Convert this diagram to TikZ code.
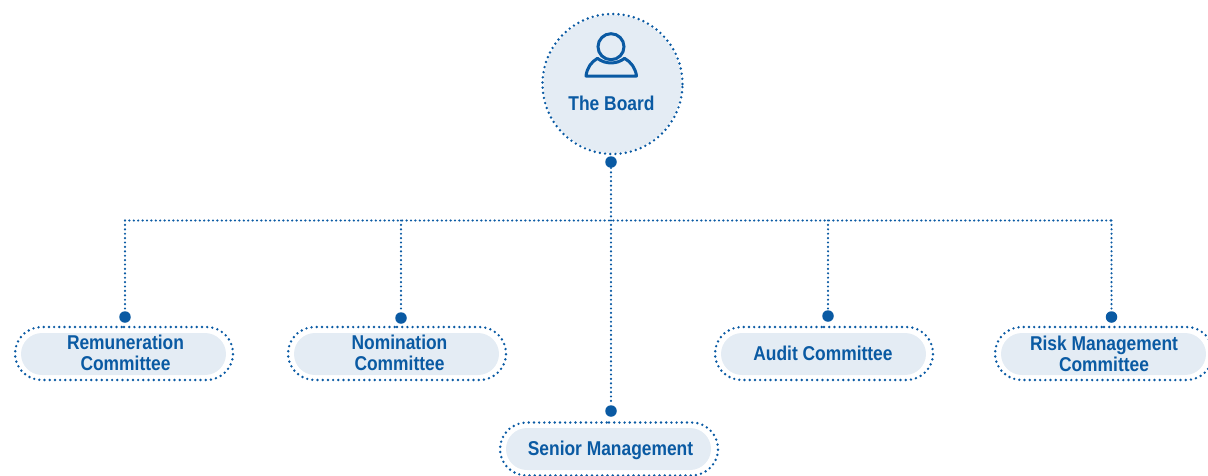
\documentclass[tikz,border=0pt]{standalone}
\usepackage{fontspec}
\setmainfont[FakeStretch=0.87]{Liberation Sans}
\usetikzlibrary{shapes.misc}
\definecolor{bl}{HTML}{0A5AA3}
\definecolor{pale}{HTML}{E4ECF4}
\tikzset{
  dotline/.style={draw=bl,line width=2.7pt,line cap=round,dash pattern=on 0pt off 5.2pt},
  conn/.style={draw=bl,line width=2.4pt,line cap=round,dash pattern=on 0pt off 4.4pt},
  pin/.style={circle,fill=bl,inner sep=0pt,minimum size=11.5pt},
  pillout/.style={rounded rectangle,dotline,minimum width=218pt,minimum height=53pt,inner sep=0pt},
  pillin/.style={rounded rectangle,fill=pale,minimum width=205pt,minimum height=42pt,inner sep=0pt},
  pilltext/.style={text=bl,font=\bfseries\fontsize{20}{21}\selectfont,align=center,inner sep=0pt},
}
\begin{document}
\begin{tikzpicture}[x=1pt,y=-1pt]
\useasboundingbox (0,0) rectangle (1208,475);
\clip (0,0) rectangle (1208,475);
% board
\node[circle,fill=pale,minimum size=138pt,inner sep=0pt] (boardfill) at (612.5,84) {};
\node[circle,dotline,minimum size=140pt,inner sep=0pt] (board) at (612.5,84) {};
\node[pilltext] (boardlabel) at (611.5,103.5) {The Board};
% person icon
\draw[bl,line width=3pt] (611,46.7) circle (13);
\draw[bl,line width=3pt,line join=round] (586,76) .. controls (587,68) and (591,62) .. (597.5,58.3)
  .. controls (605,64.5) and (617,64.5) .. (624.5,58.3)
  .. controls (631,62) and (635.5,68) .. (636.5,76) -- cycle;
% pins
\node[pin] (ptop) at (611,162) {};
\node[pin] (p1) at (125,317) {};
\node[pin] (p2) at (401,318) {};
\node[pin] (p3) at (611,411) {};
\node[pin] (p4) at (828,316) {};
\node[pin] (p5) at (1111.5,317) {};
% bus
\coordinate (b1) at (125,220.5);
\coordinate (b2) at (401,220.5);
\coordinate (b3) at (611,220.5);
\coordinate (b4) at (828,220.5);
\coordinate (b5) at (1111.5,220.5);
\draw[conn] (b1) -- (b5);
\draw[conn] (ptop) -- (b3);
\draw[conn] (b1) -- (p1);
\draw[conn] (b2) -- (p2);
\draw[conn] (b3) -- (p3);
\draw[conn] (b4) -- (p4);
\draw[conn] (b5) -- (p5);
% pills
\node[pillout] (o1) at (124,353.5) {};
\node[pillin] (f1) at (123.5,354) {};
\node[pilltext] (n1) at (125.5,353) {Remuneration\\Committee};
\node[pillout] (o2) at (397,353.5) {};
\node[pillin] (f2) at (396.5,354) {};
\node[pilltext] (n2) at (399.5,353) {Nomination\\Committee};
\node[pillout] (o3) at (824,353.5) {};
\node[pillin] (f3) at (823.5,354) {};
\node[pilltext] (n3) at (823,353.5) {Audit Committee};
\node[pillout] (o4) at (1104,353.5) {};
\node[pillin] (f4) at (1103.5,354) {};
\node[pilltext] (n4) at (1104,354) {Risk Management\\Committee};
\node[pillout] (o5) at (609,449) {};
\node[pillin] (f5) at (608.5,449) {};
\node[pilltext] (n5) at (610.5,450.5) {Senior Management};
\end{tikzpicture}
\end{document}
